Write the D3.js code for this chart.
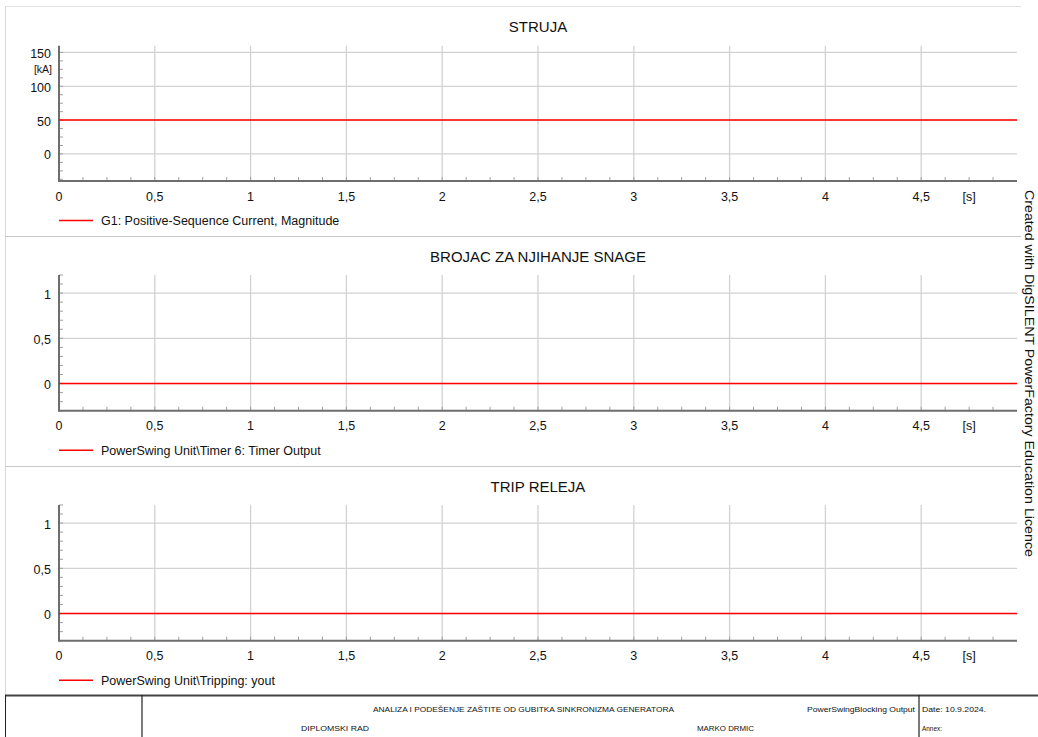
<!DOCTYPE html>
<html>
<head>
<meta charset="utf-8">
<script src="https://cdn.jsdelivr.net/npm/d3@7"></script>
<style>
  html, body { margin: 0; padding: 0; background: #fff; }
  svg { display: block; font-family: "Liberation Sans", Arial, sans-serif; }
</style>
</head>
<body>
<svg id="chart" width="1038" height="737"></svg>
<script>
// ---- Data ----
const time = [0, 5];
const currentMag = [50, 50];          // G1 positive-sequence current [kA]
const timerOutput = [0, 0];           // PowerSwing Unit\Timer 6
const trippingOut = [0, 0];           // PowerSwing Unit\Tripping
const xTicks = [0, 0.5, 1, 1.5, 2, 2.5, 3, 3.5, 4, 4.5];
const xTickLabels = ["0", "0,5", "1", "1,5", "2", "2,5", "3", "3,5", "4", "4,5"];
const titles = ["STRUJA", "BROJAC ZA NJIHANJE SNAGE", "TRIP RELEJA"];
const legendLabels = ["G1: Positive-Sequence Current, Magnitude",
                      "PowerSwing Unit\\Timer 6: Timer Output",
                      "PowerSwing Unit\\Tripping: yout"];
const yTicks1 = [0, 50, 100, 150];
const yTickLabels1 = ["0", "50", "100", "150"];
const yTicks2 = [0, 0.5, 1];
const yTickLabels2 = ["0", "0,5", "1"];
const footerTitle = "ANALIZA I PODEŠENJE ZAŠTITE OD GUBITKA SINKRONIZMA GENERATORA";
const footerLeft2 = "DIPLOMSKI RAD";
const footerAuthor = "MARKO DRMIC";
const footerName = "PowerSwingBlocking Output";
const footerDate = "Date: 10.9.2024.";
const footerAnnex = "Annex:";
const sideText = "Created with DigSILENT PowerFactory Education Licence";

// ---- Layout ----
const svg = d3.select("#chart");
const X0 = 59, X1 = 1017;
const x = d3.scaleLinear().domain([0, 5]).range([X0, X1]);

const panels = [
  { top: 45.7, bottom: 181, domain: [-40, 160], ticks: yTicks1, labels: yTickLabels1, minor: 12.5,
    values: currentMag, title: titles[0], legend: legendLabels[0], unit: "[kA]" },
  { top: 275, bottom: 410.7, domain: [-0.3, 1.2], ticks: yTicks2, labels: yTickLabels2, minor: 0.1,
    values: timerOutput, title: titles[1], legend: legendLabels[1] },
  { top: 505, bottom: 640.7, domain: [-0.3, 1.2], ticks: yTicks2, labels: yTickLabels2, minor: 0.1,
    values: trippingOut, title: titles[2], legend: legendLabels[2] }
];

const gridColor = "#d2d2d2";
const axisColor = "#6e6e6e";

// frame lines
svg.append("line").attr("x1", 5).attr("x2", 1021).attr("y1", 6.5).attr("y2", 6.5)
  .attr("stroke", "#e0e0e0").attr("stroke-width", 1);
svg.append("line").attr("x1", 5.5).attr("x2", 5.5).attr("y1", 6).attr("y2", 695)
  .attr("stroke", "#d8d8d8").attr("stroke-width", 1);
[236.5, 466.5].forEach(yy => {
  svg.append("line").attr("x1", 5).attr("x2", 1021).attr("y1", yy).attr("y2", yy)
    .attr("stroke", "#c8c8c8").attr("stroke-width", 1);
});

panels.forEach(p => {
  const y = d3.scaleLinear().domain(p.domain).range([p.bottom, p.top]);
  const g = svg.append("g");

  // title
  g.append("text").attr("x", (X0 + X1) / 2).attr("y", p.top - 13.5)
    .attr("text-anchor", "middle").attr("font-size", 15).attr("fill", "#111").text(p.title);

  // vertical grid
  g.selectAll(".vg").data(xTicks.filter(d => d > 0)).enter().append("line")
    .attr("x1", d => x(d)).attr("x2", d => x(d))
    .attr("y1", p.top).attr("y2", p.bottom)
    .attr("stroke", gridColor).attr("stroke-width", 1.3);

  // horizontal grid
  g.selectAll(".hg").data(p.ticks).enter().append("line")
    .attr("x1", X0).attr("x2", X1)
    .attr("y1", d => y(d)).attr("y2", d => y(d))
    .attr("stroke", gridColor).attr("stroke-width", 1.3);

  // minor x ticks
  const xMinor = d3.range(0.125, 5, 0.125);
  g.selectAll(".xm").data(xMinor).enter().append("line")
    .attr("x1", d => x(d)).attr("x2", d => x(d))
    .attr("y1", p.bottom).attr("y2", p.bottom - 4)
    .attr("stroke", "#a0a0a0").attr("stroke-width", 1);

  // minor y ticks
  const lo = Math.ceil(p.domain[0] / p.minor - 1e-9), hi = Math.floor(p.domain[1] / p.minor + 1e-9);
  const yMinor = d3.range(lo, hi + 1).map(k => k * p.minor);
  g.selectAll(".ym").data(yMinor).enter().append("line")
    .attr("x1", X0).attr("x2", X0 + 4)
    .attr("y1", d => y(d)).attr("y2", d => y(d))
    .attr("stroke", "#a0a0a0").attr("stroke-width", 1);

  // axes lines
  g.append("line").attr("x1", X0).attr("x2", X0).attr("y1", p.top).attr("y2", p.bottom + 1)
    .attr("stroke", axisColor).attr("stroke-width", 2);
  g.append("line").attr("x1", X0).attr("x2", X1).attr("y1", p.bottom).attr("y2", p.bottom)
    .attr("stroke", axisColor).attr("stroke-width", 2);

  // y tick labels
  g.selectAll(".yl").data(p.ticks).enter().append("text")
    .attr("x", 51).attr("y", d => y(d) + 5.5)
    .attr("text-anchor", "end").attr("font-size", 12.5).attr("fill", "#111")
    .text((d, i) => p.labels[i]);
  if (p.unit) {
    g.append("text").attr("x", 52).attr("y", (y(150) + y(100)) / 2 + 4)
      .attr("text-anchor", "end").attr("font-size", 10.5).attr("fill", "#111").text(p.unit);
  }

  // x tick labels
  g.selectAll(".xl").data(xTicks).enter().append("text")
    .attr("x", d => x(d)).attr("y", p.bottom + 19.5)
    .attr("text-anchor", "middle").attr("font-size", 12.5).attr("fill", "#111")
    .text((d, i) => xTickLabels[i]);
  g.append("text").attr("x", x(4.75)).attr("y", p.bottom + 19.5)
    .attr("text-anchor", "middle").attr("font-size", 12.5).attr("fill", "#111").text("[s]");

  // series line
  const line = d3.line().x((d, i) => x(time[i])).y(d => y(d));
  g.append("path").datum(p.values).attr("d", line)
    .attr("fill", "none").attr("stroke", "#ff0000").attr("stroke-width", 1.5);

  // legend
  const ly = p.bottom + 39.5;
  g.append("line").attr("x1", 59).attr("x2", 93).attr("y1", ly).attr("y2", ly)
    .attr("stroke", "#ff0000").attr("stroke-width", 1.5);
  g.append("text").attr("x", 101).attr("y", ly + 4.5).attr("font-size", 12.5).attr("fill", "#111")
    .text(p.legend);
});

// side text
svg.append("text").attr("transform", "translate(1025,190) rotate(90)")
  .attr("font-size", 13).attr("fill", "#111")
  .attr("textLength", 367).attr("lengthAdjust", "spacingAndGlyphs")
  .text(sideText);

// footer
svg.append("line").attr("x1", 5).attr("x2", 1038).attr("y1", 695.5).attr("y2", 695.5)
  .attr("stroke", "#444").attr("stroke-width", 2);
[5.5, 142, 919].forEach(xx => {
  svg.append("line").attr("x1", xx).attr("x2", xx).attr("y1", 695).attr("y2", 737)
    .attr("stroke", "#222").attr("stroke-width", xx === 5.5 ? 1 : 1.2);
});
const ft = (txt, xx, yy, len, anchor) => {
  svg.append("text").attr("x", xx).attr("y", yy).attr("font-size", 8).attr("fill", "#111")
    .attr("text-anchor", anchor || "start")
    .attr("textLength", len).attr("lengthAdjust", "spacingAndGlyphs").text(txt);
};
ft(footerTitle, 373, 711.5, 301);
ft(footerName, 807, 711.5, 108);
ft(footerDate, 922, 711.5, 64);
ft(footerLeft2, 301, 731, 68);
ft(footerAuthor, 697, 731, 57);
ft(footerAnnex, 922, 731, 20);
</script>
</body>
</html>
